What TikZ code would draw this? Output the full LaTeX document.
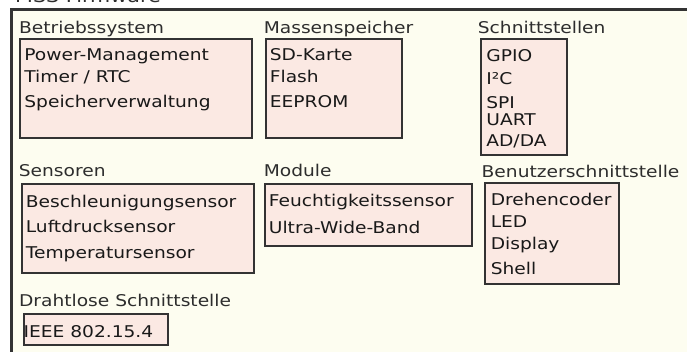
\documentclass[tikz,border=0pt]{standalone}
\usepackage{fontspec}
\setmainfont[FakeStretch=1.15]{DejaVu Sans}
\usepackage{tikz}

\definecolor{cream}{RGB}{253,253,240}
\definecolor{boxpink}{RGB}{251,233,227}
\definecolor{darkline}{RGB}{51,51,51}
\definecolor{headgray}{RGB}{45,45,45}

% width, height, first baseline, lines
\newcommand{\boxtext}[4]{\parbox[c][#2][t]{#1}{\rule{0pt}{#3}#4}}

\begin{document}
\begin{tikzpicture}[x=1pt, y=-1pt, font=\fontsize{16.2}{17}\selectfont]
    \tikzstyle{frame_style} = [draw=darkline, line width=3pt, fill=cream]
    \tikzstyle{head_style} = [anchor=base west, inner sep=0pt, text=headgray]
    \tikzstyle{box_style} = [anchor=north west, draw=darkline, line width=1.8pt, fill=boxpink, inner ysep=0pt, text=black!90]
    \useasboundingbox (0,0) rectangle (687,351);
    \clip (0,0) rectangle (687,351);
    \draw[frame_style] (11,9) rectangle (700,360);
    \node[head_style, font=\fontsize{18}{20}\selectfont] (title) at (15,2.5) {MSS Firmware};

    \node[head_style] (h_os) at (19,33) {Betriebssystem};
    \node[head_style] (h_mass) at (263.6,33) {Massenspeicher};
    \node[head_style] (h_if) at (477.7,33) {Schnittstellen};
    \node[head_style] (h_sens) at (18.7,176) {Sensoren};
    \node[head_style] (h_mod) at (263.6,176) {Module};
    \node[head_style] (h_ui) at (481.5,177) {Benutzerschnittstelle};
    \node[head_style] (h_rf) at (18.9,306.7) {Drahtlose Schnittstelle};

    \node[box_style, inner xsep=4.5pt] (b_os) at (19,38)
        {\boxtext{223pt}{99pt}{22pt}{Power-Management\\[5pt]Timer / RTC\\[8pt]Speicherverwaltung}};
    \node[box_style, inner xsep=4pt] (b_mass) at (265,38)
        {\boxtext{128pt}{99pt}{22pt}{SD-Karte\\[5pt]Flash\\[8pt]EEPROM}};
    \node[box_style, inner xsep=5.5pt] (b_if) at (480,38)
        {\boxtext{75pt}{116pt}{22.3pt}{GPIO\\[6pt]I²C\\[7pt]SPI\\UART\\[4pt]AD/DA}};
    \node[box_style, inner xsep=4pt] (b_sens) at (21,183)
        {\boxtext{224pt}{89pt}{23.7pt}{Beschleunigungsensor\\[8pt]Luftdrucksensor\\[8.6pt]Temperatursensor}};
    \node[box_style, inner xsep=4pt] (b_mod) at (264,183)
        {\boxtext{199pt}{62pt}{23pt}{Feuchtigkeitssensor\\[10pt]Ultra-Wide-Band}};
    \node[box_style, inner xsep=5.6pt] (b_ui) at (484.3,182)
        {\boxtext{122.8pt}{101pt}{23pt}{Drehencoder\\[4.7pt]LED\\[4.6pt]Display\\[8pt]Shell}};
    \node[box_style, inner xsep=0pt] (b_rf) at (22.7,313)
        {\boxtext{144pt}{31pt}{24pt}{IEEE 802.15.4}};
\end{tikzpicture}
\end{document}
